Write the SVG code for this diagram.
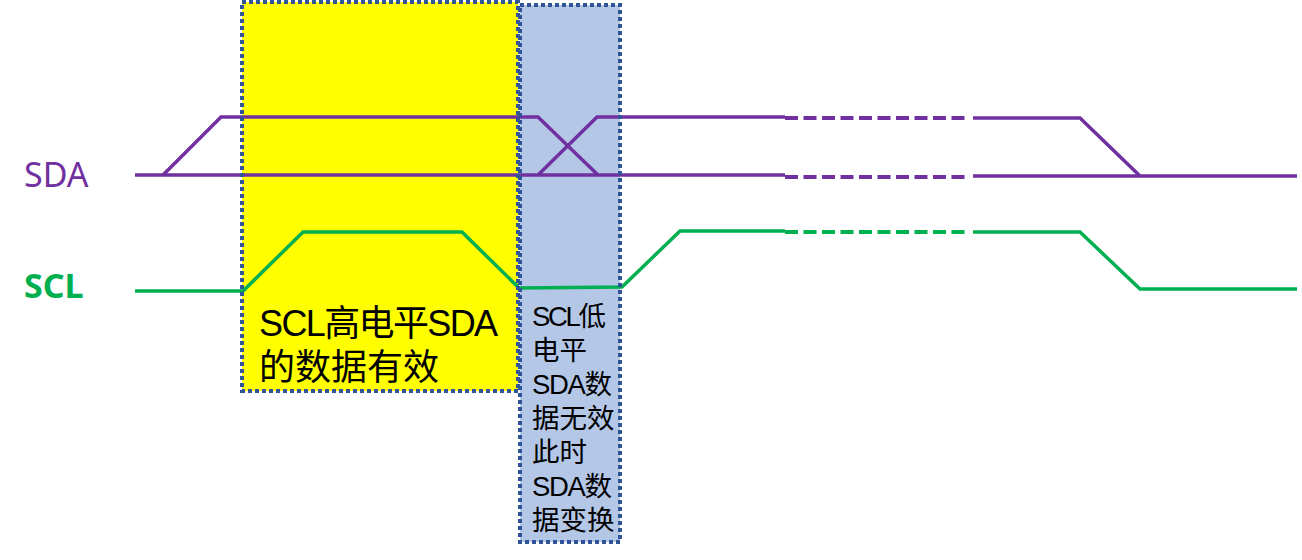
<svg xmlns="http://www.w3.org/2000/svg" width="1302" height="560" viewBox="0 0 1302 560">
<style>
.box{stroke:none}
.bd{fill:none;stroke:#2F5597;stroke-width:4;stroke-dasharray:4 3}
.sda{fill:none;stroke:#7030A0;stroke-width:3.5;stroke-linejoin:miter}
.scl{fill:none;stroke:#00B050;stroke-width:3.5;stroke-linejoin:miter}
.dash{stroke-width:4;stroke-dasharray:13 5.5}
.t{font-family:"Liberation Sans","Noto Sans CJK SC",sans-serif;fill:#000}
.lbl{font-family:"Noto Sans","Liberation Sans",sans-serif}
</style>
<rect width="1302" height="560" fill="#fff"/>
<g id="box-invalid">
<rect class="box" x="520" y="5" width="100" height="537" fill="#B4C7E7"/>
</g>
<g id="box-valid">
<rect class="box" x="242" y="2" width="276" height="389" fill="#FFFF00"/>
</g>
<g id="connectors">
<path class="sda" d="M135,175 H785"/>
<path class="sda" d="M163,175 L221,117 H538 L598,175"/>
<path class="sda" d="M538,175 L597,117 H785"/>
<path class="sda dash" d="M785,118 H970"/>
<path class="sda dash" d="M785,177 H970"/>
<path class="sda" d="M973,118 H1080 L1140,176"/>
<path class="sda" d="M973,176 H1297"/>
<path class="scl" d="M135,291 H243 L303,232 H462 L519,288 L622,287 L680,231 H785"/>
<path class="scl dash" d="M785,232 H970"/>
<path class="scl" d="M973,232 H1080 L1140,289 H1297"/>
</g>
<g id="borders">
<rect class="bd" x="520" y="5" width="100" height="537"/>
<rect class="bd" x="242" y="2" width="276" height="389"/>
</g>
<g id="label-sda">
<text class="lbl" x="24" y="187" font-size="34" fill="#7030A0">SDA</text>
</g>
<g id="label-scl">
<text class="lbl" x="24" y="298" font-size="34" font-weight="bold" fill="#00B050">SCL</text>
</g>
<g id="text-valid">
<text class="t" font-size="36" x="259" y="336" textLength="239" lengthAdjust="spacing">SCL高电平SDA</text>
<text class="t" font-size="36" x="259" y="380">的数据有效</text>
</g>
<g id="text-invalid">
<text class="t" font-size="27.5"><tspan x="532" y="326" textLength="74" lengthAdjust="spacing">SCL低</tspan><tspan x="532" y="360">电平</tspan><tspan x="532" y="394" textLength="80" lengthAdjust="spacing">SDA数</tspan><tspan x="532" y="428">据无效</tspan><tspan x="532" y="462">此时</tspan><tspan x="532" y="496" textLength="80" lengthAdjust="spacing">SDA数</tspan><tspan x="532" y="530">据变换</tspan></text>
</g>
</svg>
